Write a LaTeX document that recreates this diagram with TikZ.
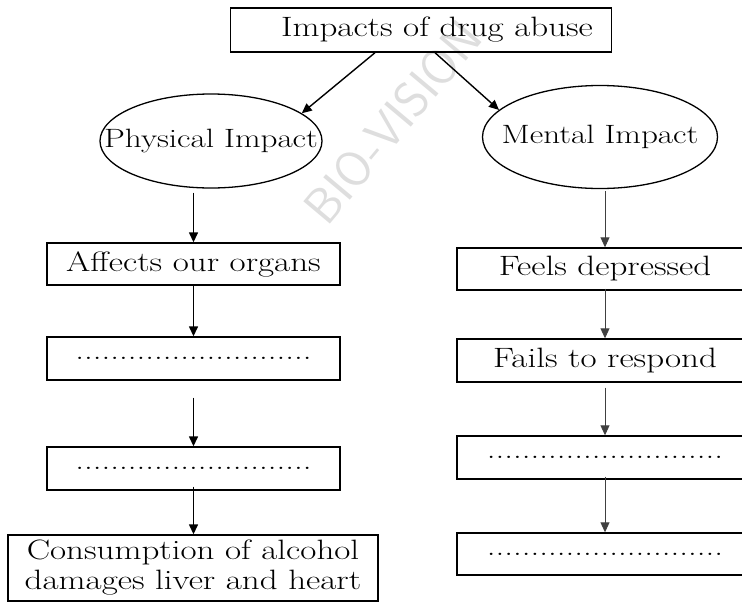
\documentclass[tikz,border=0pt]{standalone}
\usepackage{fontspec}
\setmainfont{Latin Modern Roman}[FakeStretch=1.25]
\usepackage{tikz}
\usetikzlibrary{arrows.meta,shapes.geometric}

\newcommand{\dotrow}{...........................}

\tikzset{
  box/.style={draw, line width=1.4pt, minimum height=42pt, inner sep=0pt, align=center},
  oval/.style={draw, ellipse, line width=1.3pt, inner xsep=-40pt, inner ysep=0pt, font=\fontsize{26.5}{30}\selectfont},
  link/.style={-{Triangle[length=10pt,width=9pt]}, line width=1.4pt},
  thinlink/.style={-{Triangle[length=10pt,width=9pt]}, line width=0.9pt, black!75},
}

\begin{document}
\begin{tikzpicture}[x=1pt, y=-1pt, font=\fontsize{28}{30}\selectfont]
      \useasboundingbox (0,0) rectangle (742,603);
      \clip (0,0) rectangle (742,603);
      % Watermark
      \node[text=black!13, font=\sffamily\fontsize{50}{50}\selectfont, rotate=50] (mark) at (393,122) {BIO-VISION};
      % Top
      \node[box, minimum width=381pt, minimum height=44pt] (top) at (421,30) {\hspace*{32pt}Impacts of drug abuse};
      \node[oval, minimum width=222pt, minimum height=94pt] (phys) at (211,141) {Physical Impact};
      \node[oval, minimum width=235pt, minimum height=103pt] (mental) at (600,137) {Mental Impact};
      \draw[link] ([xshift=-46pt]top.south) -- (phys.17);
      \draw[link] ([xshift=14pt]top.south) -- (mental.165);
      % - Physical side
      \node[box, minimum width=293pt] (organs) at (193.5,264) {Affects our organs};
      \node[box, minimum width=293pt, minimum height=43pt] (blankA) at (193.5,358.5) {\dotrow};
      \node[box, minimum width=293pt, minimum height=43pt] (blankB) at (193.5,468.5) {\dotrow};
      \node[box, minimum width=370pt, minimum height=66pt] (alcohol) at (193,568) {Consumption of alcohol\\damages liver and heart};
      \draw[link, shorten <=4pt] (phys.south -| organs.north) -- (organs.north);
      \draw[link] (organs.south) -- (blankA.north);
      \draw[link, shorten <=17pt] (blankA.south) -- (blankB.north);
      \draw[link, shorten <=-4pt] (blankB.south) -- (blankB.south |- alcohol.north);
      % - Mental side
      \node[box, minimum width=296pt] (depressed) at (605,269) {Feels depressed};
      \node[box, minimum width=296pt, minimum height=43pt] (respond) at (605,360.5) {Fails to respond};
      \node[box, minimum width=296pt, minimum height=43pt] (blankC) at (605,457.5) {\dotrow};
      \node[box, minimum width=296pt] (blankD) at (605,554) {\dotrow};
      \draw[thinlink, shorten <=2pt] (mental.south -| depressed.north) -- (depressed.north);
      \draw[thinlink, shorten <=-2pt] (depressed.south) -- (respond.north);
      \draw[thinlink, shorten <=5pt] (respond.south) -- (blankC.north);
      \draw[thinlink, shorten <=-3pt] (blankC.south) -- (blankD.north);
    \end{tikzpicture}
\end{document}
